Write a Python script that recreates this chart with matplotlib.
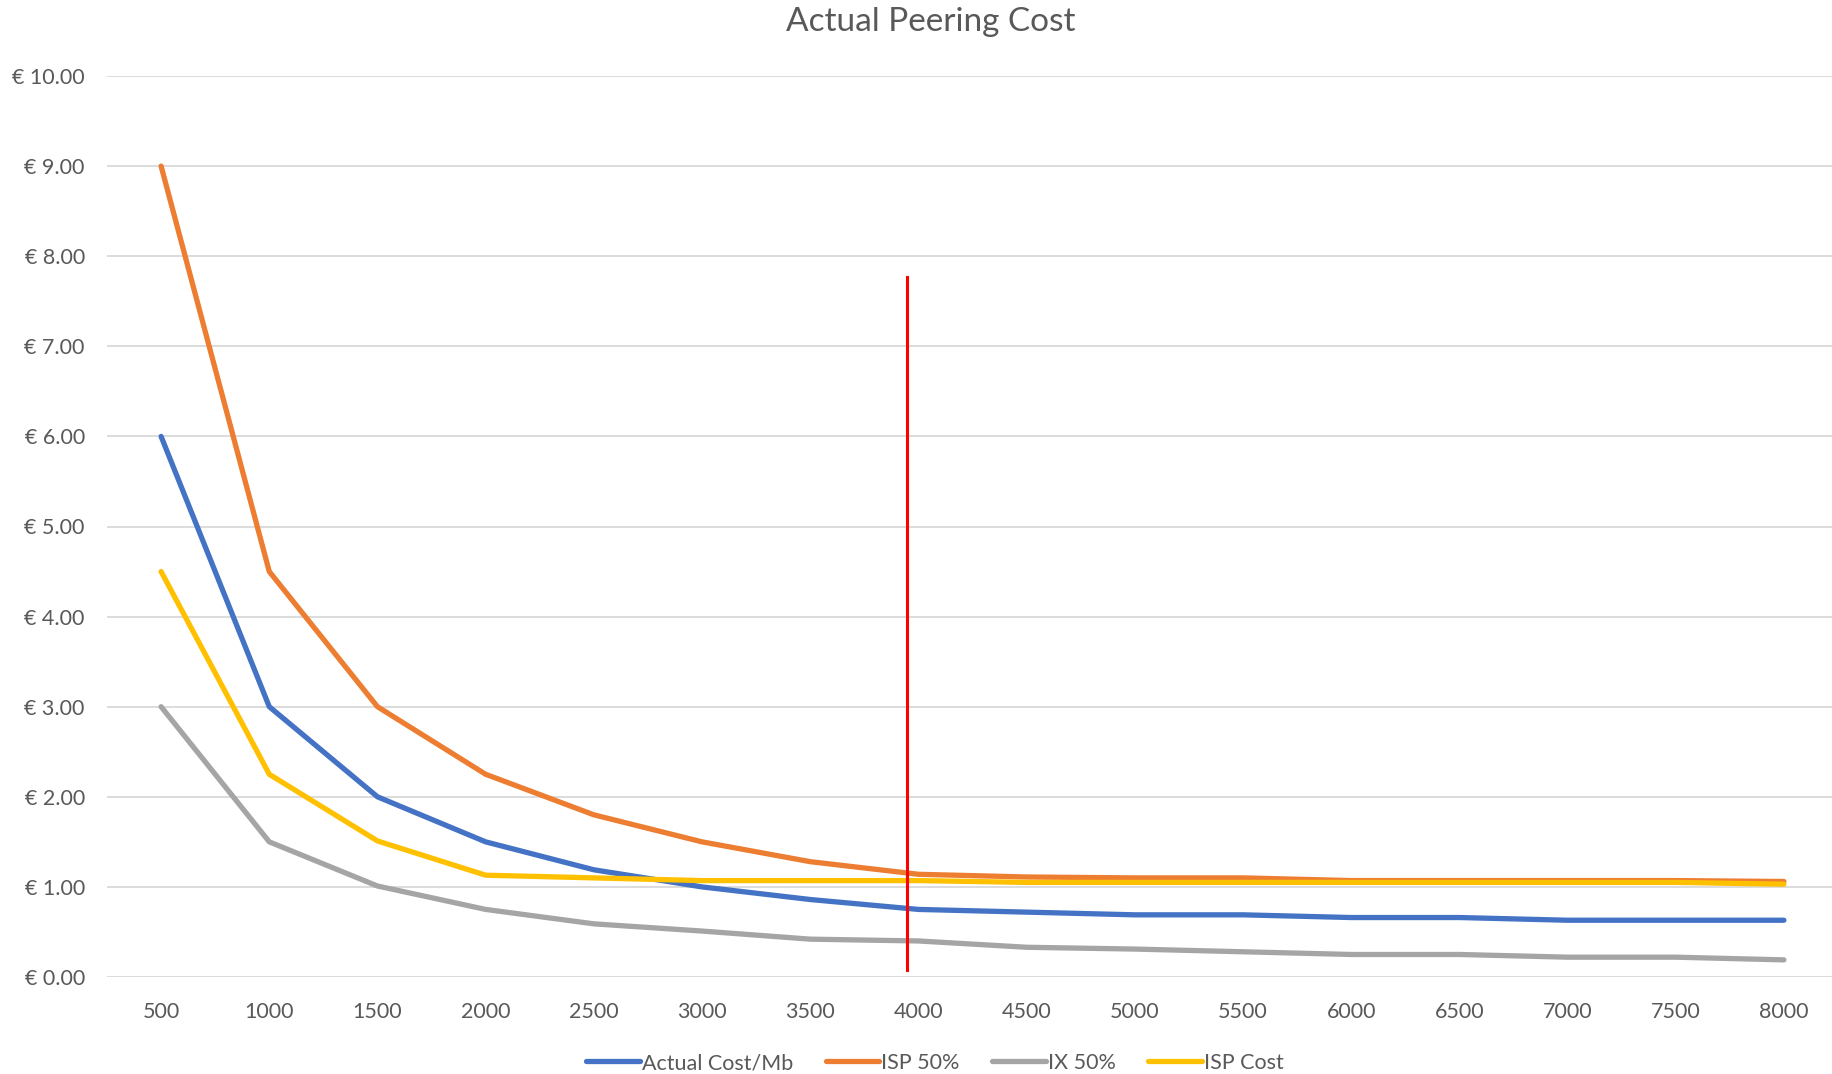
import matplotlib
matplotlib.use("Agg")
import matplotlib.pyplot as plt
from matplotlib.ticker import FuncFormatter

categories = [500, 1000, 1500, 2000, 2500, 3000, 3500, 4000, 4500, 5000,
              5500, 6000, 6500, 7000, 7500, 8000]
actual_cost = [6.00, 3.00, 2.00, 1.50, 1.19, 1.00, 0.86, 0.75, 0.72, 0.69,
               0.69, 0.66, 0.66, 0.63, 0.63, 0.63]
isp_50 = [9.00, 4.50, 3.00, 2.25, 1.80, 1.50, 1.28, 1.14, 1.11, 1.10,
          1.10, 1.07, 1.07, 1.07, 1.07, 1.06]
ix_50 = [3.00, 1.50, 1.01, 0.75, 0.59, 0.51, 0.42, 0.40, 0.33, 0.31,
         0.28, 0.25, 0.25, 0.22, 0.22, 0.19]
isp_cost = [4.50, 2.25, 1.51, 1.13, 1.10, 1.07, 1.07, 1.07, 1.05, 1.05,
            1.05, 1.05, 1.05, 1.05, 1.05, 1.03]
series_names = ["Actual Cost/Mb", "ISP 50%", "IX 50%", "ISP Cost"]
marker_x = 3945
marker_y = [0.08, 7.77]

plt.rcParams['font.family'] = ['Lato', 'DejaVu Sans']

fig = plt.figure(figsize=(18.32, 10.74), dpi=100)
ax = fig.add_axes([107 / 1832, 1 - 977 / 1074, (1838 - 107) / 1832, (977 - 76) / 1074])

colors = ["#4472C4", "#ED7D31", "#A5A5A5", "#FFC000"]
lw = 3.8
for vals, name, c in zip([actual_cost, isp_50, ix_50, isp_cost], series_names, colors):
    ax.plot(categories, vals, color=c, lw=lw, label=name, solid_capstyle='round',
            solid_joinstyle='round', zorder=3)

ax.plot([marker_x, marker_x], marker_y, color="#FF0000", lw=2.2, zorder=4)

ax.set_xlim(250, 8250)
ax.set_ylim(0, 10)
ax.set_xticks(categories)
ax.set_xticklabels([str(c) for c in categories])
ax.set_yticks(range(0, 11))
ax.yaxis.set_major_formatter(FuncFormatter(lambda v, p: f"€ {v:.2f}"))
ax.grid(axis='y', color="#D9D9D9", lw=1.3, zorder=0)
ax.set_axisbelow(True)
for s in ax.spines.values():
    s.set_visible(False)
ax.tick_params(axis='both', length=0, labelsize=15.5, labelcolor="#595959")
ax.tick_params(axis='x', pad=18)
ax.tick_params(axis='y', pad=16)

fig.text(931 / 1832, 1 - 22 / 1074, "Actual Peering Cost", ha='center', va='center',
         fontsize=24, color="#595959")

leg = fig.legend(loc='center', bbox_to_anchor=(935 / 1832, 1 - 1063 / 1074), ncol=4,
                 frameon=False, fontsize=15.5, handlelength=2.5, handletextpad=0.1,
                 columnspacing=1.5)
for t in leg.get_texts():
    t.set_color("#595959")

fig.savefig("out.png", dpi=100, facecolor="white")
